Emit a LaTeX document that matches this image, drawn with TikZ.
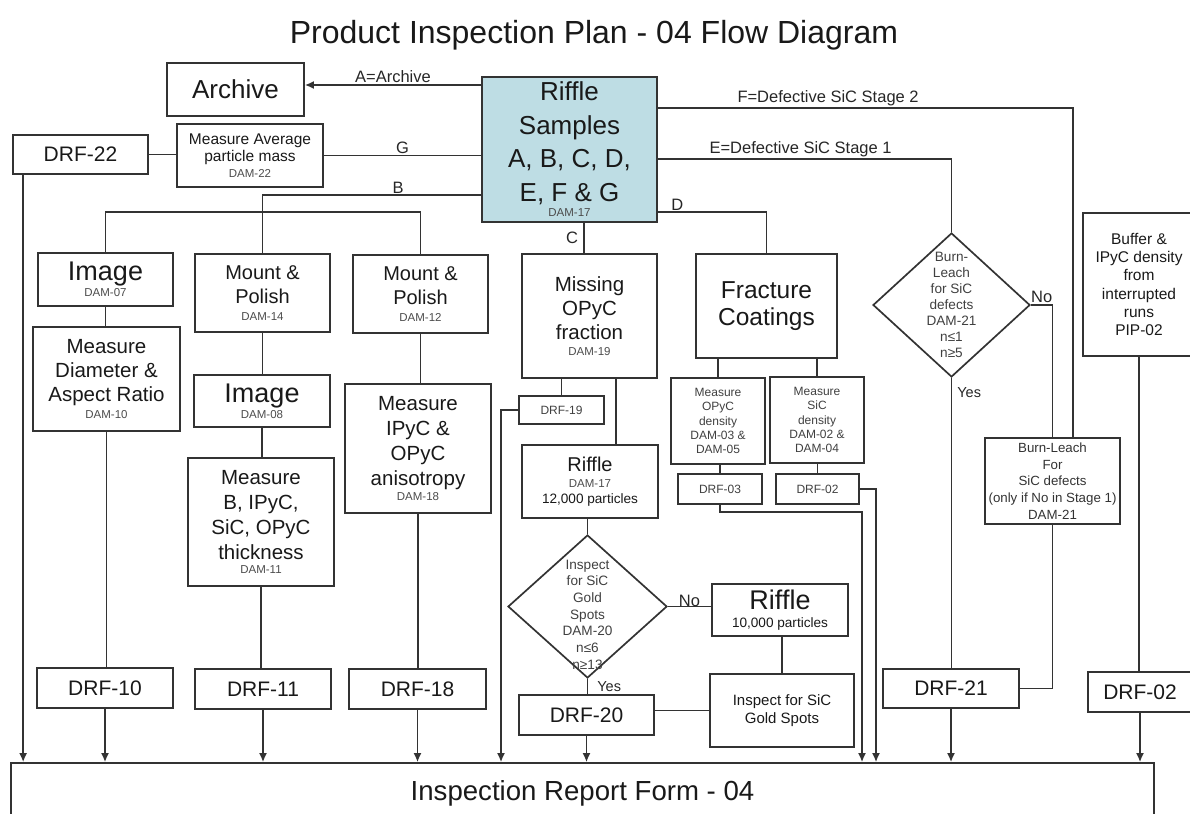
\documentclass[tikz,border=0pt]{standalone}
\usepackage{fontspec}
\setmainfont{Liberation Sans}
\usetikzlibrary{shapes.geometric,arrows.meta}
\definecolor{sample}{RGB}{190,221,228}
\newcommand\fsz[2]{\fontsize{#1}{#2}\selectfont}
\newcommand\dam[1]{{\fsz{11.5}{13}\color{black!70}#1}}

\begin{document}
\begin{tikzpicture}[x=1pt,y=-1pt,
  box/.style={draw=black!80,line width=1.7pt,inner sep=0pt,align=center,text=black!90},
  dbox/.style={draw=black!80,line width=1.7pt,shape=diamond,inner sep=0pt,text=black!75},
  link/.style={draw=black!80,line width=1.7pt},
  feed/.style={link,-{Latex[length=9pt,width=8pt]}},
  tag/.style={font=\fsz{16.5}{19},text=black!85,inner sep=1pt}]
\useasboundingbox (0,0) rectangle (1190,813);
%\draw[color=gray!20,step=50] (0,0) grid (1190,813);

\node[font=\fsz{32}{36},text=black!90] (title) at (594,35) {Product Inspection Plan - 04 Flow Diagram};

% top row
\node[box,minimum width=137,minimum height=53,font=\fsz{26}{30}] (archive) at (235.5,89.5) {Archive};
\node[box,fill=sample,minimum width=175,minimum height=145,font=\fsz{26}{33.5}] (riffle) at (569.5,149.5) {Riffle\\Samples\\A, B, C, D,\\E, F \& G\\[-18pt]\dam{DAM-17}};
\node[box,minimum width=135,minimum height=39,font=\fsz{21}{25}] (drf22) at (80.5,154.5) {DRF-22};
\node[box,minimum width=146,minimum height=63,font=\fsz{15.5}{17}] (avgmass) at (250,155.5) {Measure Average\\particle mass\\[-1.5pt]\dam{DAM-22}};

% B
\node[box,minimum width=135,minimum height=53,font=\fsz{27}{32}] (img07) at (105.5,279.5) {Image\\[-15.6pt]\dam{DAM-07}};
\node[box,minimum width=147,minimum height=104,font=\fsz{20.5}{24}] (diam10) at (106.5,379) {Measure\\Diameter \&\\Aspect Ratio\\[-6.3pt]\dam{DAM-10}};
\node[box,minimum width=136,minimum height=40,font=\fsz{21}{25}] (drf10) at (105,688) {DRF-10};

\node[box,minimum width=135,minimum height=78,font=\fsz{20}{24}] (mount14) at (262.5,293) {Mount \&\\Polish\\[-7.2pt]\dam{DAM-14}};
\node[box,minimum width=136,minimum height=52,font=\fsz{27}{32}] (img08) at (262,401) {Image\\[-15.6pt]\dam{DAM-08}};
\node[box,minimum width=146,minimum height=128,font=\fsz{20.5}{25}] (thick11) at (261,522) {Measure\\B, IPyC,\\SiC, OPyC\\thickness\\[-10.2pt]\dam{DAM-11}};
\node[box,minimum width=136,minimum height=40,font=\fsz{21}{25}] (drf11) at (263,689) {DRF-11};

\node[box,minimum width=135,minimum height=78,font=\fsz{20}{24}] (mount12) at (420.5,294) {Mount \&\\Polish\\[-7.2pt]\dam{DAM-12}};
\node[box,minimum width=146,minimum height=129,font=\fsz{20.5}{25}] (aniso18) at (418,448.5) {Measure\\IPyC \&\\OPyC\\anisotropy\\[-9.2pt]\dam{DAM-18}};
\node[box,minimum width=137,minimum height=40,font=\fsz{21}{25}] (drf18) at (417.5,689) {DRF-18};

% C
\node[box,minimum width=135,minimum height=124,font=\fsz{20.5}{24}] (miss19) at (589.5,316) {Missing\\OPyC\\fraction\\[-8.2pt]\dam{DAM-19}};
\node[box,minimum width=85,minimum height=28,font=\fsz{12}{14},text=black!75] (drf19) at (561.5,410) {DRF-19};
\node[box,minimum width=136,minimum height=73,font=\fsz{20}{24}] (riff17) at (590,481.5) {Riffle\\[-8pt]\dam{DAM-17}\\[-8pt]{\fsz{13.6}{16}12,000 particles}};
\node[dbox,minimum width=159,minimum height=143,font=\fsz{13.6}{16.7}] (gold) at (587.5,606.5) {\smash{\raisebox{-13pt}{\begin{tabular}{@{}c@{}}Inspect\\for SiC\\Gold\\Spots\\DAM-20\\n≤6\\n≥13\end{tabular}}}};
\node[box,minimum width=135,minimum height=40,font=\fsz{21}{25}] (drf20) at (586.5,715) {DRF-20};
\node[box,minimum width=136,minimum height=52,font=\fsz{27}{32}] (riff10k) at (780,610) {Riffle\\[-13.8pt]{\fsz{13.6}{16}10,000 particles}};
\node[box,minimum width=144,minimum height=73,font=\fsz{15}{18}] (goldbox) at (782,710.5) {Inspect for SiC\\Gold Spots};

% D
\node[box,minimum width=141,minimum height=104,font=\fsz{24.5}{27.5}] (fract) at (766.5,306) {Fracture\\Coatings};
\node[box,minimum width=94,minimum height=86,font=\fsz{12}{14.3},text=black!75] (opyc) at (718,421) {Measure\\OPyC\\density\\DAM-03 \&\\DAM-05};
\node[box,minimum width=94,minimum height=86,font=\fsz{12}{14.3},text=black!75] (sicd) at (817,420) {Measure\\SiC\\density\\DAM-02 \&\\DAM-04};
\node[box,minimum width=84,minimum height=30,font=\fsz{12}{14},text=black!75] (drf03) at (720,489) {DRF-03};
\node[box,minimum width=83,minimum height=30,font=\fsz{12}{14},text=black!75] (drf02a) at (817.5,489) {DRF-02};

% E, F
\node[dbox,minimum width=157,minimum height=144,font=\fsz{13.6}{16}] (burn) at (951.5,305) {\smash{\raisebox{-5pt}{\begin{tabular}{@{}c@{}}Burn-\\Leach\\for SiC\\defects\\DAM-21\\n≤1\\n≥5\end{tabular}}}};
\node[box,minimum width=135,minimum height=86,font=\fsz{13.3}{16.7},text=black!80] (burnbox) at (1052.5,481) {Burn-Leach\\For\\SiC defects\\(only if No in Stage 1)\\DAM-21};
\node[box,minimum width=136,minimum height=39,font=\fsz{21}{25}] (drf21) at (951,688.5) {DRF-21};
\node[box,minimum width=112,minimum height=143,font=\fsz{15.5}{18.3}] (buffer) at (1139,284.5) {Buffer \&\\IPyC density\\from\\interrupted\\runs\\PIP-02};
\node[box,minimum width=104,minimum height=40,font=\fsz{21}{25}] (drf02b) at (1140,692) {DRF-02};

\node[box,minimum width=1143,minimum height=60,font=\fsz{27.6}{32}] (report) at (582.5,793) {Inspection Report Form - 04};

% A, G
\draw[feed] ([yshift=64.5]riffle.west) -- ([yshift=4.5]archive.east) node[tag,midway,above]{A=Archive};
\draw[link] (riffle.west |- avgmass.east) -- (avgmass.east) node[tag,midway,above]{G};
\draw[link] (drf22.east) -- (drf22.east -| avgmass.west);
\coordinate (c22) at ([xshift=11]drf22.south west);
\draw[feed] (c22) -- (c22 |- report.north);

% B
\coordinate (bus) at (262.5,212);
\draw[link] ([yshift=-45.5]riffle.west) -| (mount14.north) node[tag,pos=.19,above]{B};
\draw[link] (img07.north) |- (bus) -| (mount12.north);
\draw[link] (img07.south) -- (img07.south |- diam10.north);
\draw[link] (diam10.south) -- (diam10.south |- drf10.north);
\draw[link] (mount14.south) -- (mount14.south |- img08.north);
\draw[link] (img08.south) -- (img08.south |- thick11.north);
\draw[link] (thick11.south) -- (thick11.south |- drf11.north);
\draw[link] (mount12.south) -- (mount12.south |- aniso18.north);
\draw[link] (aniso18.south) -- (aniso18.south |- drf18.north);
\draw[feed] (drf10.south) -- (drf10.south |- report.north);
\draw[feed] (drf11.south) -- (drf11.south |- report.north);
\draw[feed] (drf18.south) -- (drf18.south |- report.north);

% C
\coordinate (cC) at ([xshift=14.5]riffle.south);
\draw[link] (cC) -- (cC |- miss19.north) node[tag,midway,left=4pt]{C};
\draw[link] (drf19.north |- miss19.south) -- (drf19.north);
\coordinate (cR) at ([xshift=26.5]miss19.south);
\draw[link] (cR) -- (cR |- riff17.north);
\coordinate (c19) at (501,410);
\draw[feed] (drf19.west) -- (c19) -- (c19 |- report.north);
\draw[link] (gold.north |- riff17.south) -- (gold.north);
\draw[link] (gold.south) -- (gold.south |- drf20.north) node[tag,midway,right=8pt,font=\fsz{14.5}{16}]{Yes};
\draw[link] (gold.east) -- (gold.east -| riff10k.west) node[tag,midway,anchor=base]{No};
\draw[link] (riff10k.south -| goldbox.north) -- (goldbox.north);
\draw[link] (drf20.east |- goldbox.west) -- (goldbox.west);
\draw[feed] (drf20.south) -- (drf20.south |- report.north);

% D
\draw[link] ([yshift=-62.5]riffle.east) -| (fract.north) node[tag,pos=.09,above]{D};
\draw[link] (opyc.north |- fract.south) -- (opyc.north);
\draw[link] (sicd.north |- fract.south) -- (sicd.north);
\draw[link] (drf03.north |- opyc.south) -- (drf03.north);
\draw[link] (drf02a.north |- sicd.south) -- (drf02a.north);
\coordinate (c03) at (862,512);
\coordinate (c02) at (876,489);
\draw[feed] (drf03.south) |- (c03) -- (c03 |- report.north);
\draw[feed] (drf02a.east) -- (c02) -- (c02 |- report.north);

% E, F
\draw[link] ([yshift=-9.5]riffle.east) -| (burn.north) node[tag,pos=.243,above]{E=Defective SiC Stage 1};
\coordinate (cF) at (1073,108);
\draw[link] ([yshift=41.5]riffle.east) -- (cF) node[tag,pos=.41,above]{F=Defective SiC Stage 2} -- (cF |- burnbox.north);
\draw[link] (burn.east) -| (burnbox.north) node[tag,pos=.25,above]{No};
\draw[link] (burn.south) -- (burn.south |- drf21.north) node[tag,pos=.05,right=4pt,font=\fsz{14.5}{16}]{Yes};
\draw[link] (burnbox.south) |- (drf21.east);
\draw[feed] (drf21.south) -- (drf21.south |- report.north);
\draw[link] (buffer.south) -- (buffer.south |- drf02b.north);
\draw[feed] (drf02b.south) -- (drf02b.south |- report.north);
\end{tikzpicture}
\end{document}
